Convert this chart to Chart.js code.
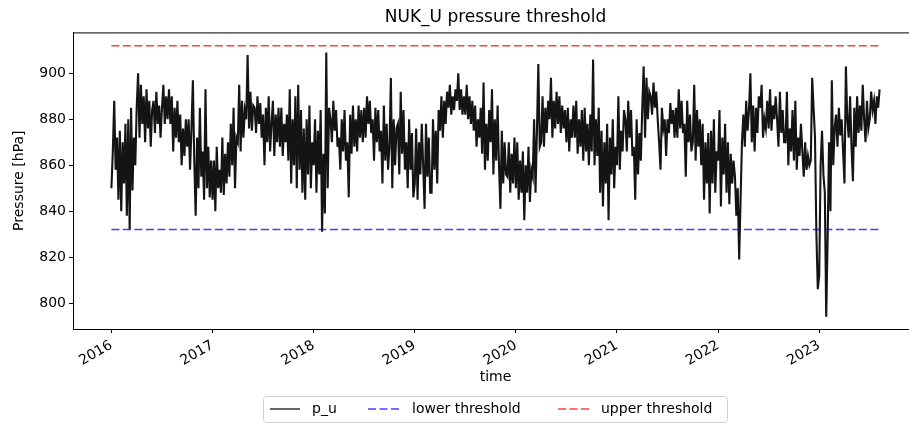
<!DOCTYPE html>
<html>
<head>
<meta charset="utf-8">
<script src="https://cdn.jsdelivr.net/npm/chart.js@4.4.0/dist/chart.umd.min.js"></script>
<style>
  html, body { margin: 0; padding: 0; background: #fff; }
  #wrap { width: 909px; height: 424px; overflow: hidden; }
</style>
</head>
<body>
<div id="wrap"><canvas id="pressureChart" width="920" height="424"></canvas></div>
<script>
// p_u readings, 6 values per month (Jan..Dec)
const p2016 = [
    850, 866, 888, 858, 872, 845,  875, 840, 870, 852, 878, 838,  880, 832, 885, 849, 872, 860,
    885, 900, 872, 895, 878, 890,  870, 893, 876, 888, 868, 884,  888, 874, 892, 878, 886, 872,
    885, 895, 878, 890, 880, 893,  878, 890, 866, 885, 872, 888,  870, 882, 860, 876, 864, 880,
    868, 880, 858, 876, 897, 862,  838, 872, 850, 885, 855, 866,  845, 893, 850, 868, 846, 862
];
const p2017 = [
    845, 862, 840, 868, 850, 858,  848, 872, 847, 865, 852, 870,  855, 878, 860, 885, 850, 872,
    870, 895, 866, 888, 872, 884,  880, 908, 876, 892, 875, 886,  885, 874, 890, 878, 887, 872,
    882, 860, 885, 870, 890, 866,  878, 888, 864, 882, 870, 885,  868, 885, 864, 878, 870, 882,
    862, 893, 852, 880, 860, 890,  850, 895, 858, 884, 848, 876,  845, 880, 856, 886, 850, 870
];
const p2018 = [
    860, 880, 848, 875, 856, 884,  831, 865, 839, 909, 850, 885,  880, 870, 888, 875, 884, 868,
    872, 858, 880, 866, 884, 862,  870, 846, 882, 865, 886, 868,  880, 866, 886, 872, 884, 870,
    885, 872, 890, 878, 888, 874,  880, 862, 885, 870, 884, 866,  875, 852, 886, 862, 878, 858,
    868, 898, 850, 880, 860, 876,  878, 856, 892, 865, 884, 858,  870, 850, 880, 858, 874, 846
];
const p2019 = [
    852, 876, 845, 870, 856, 878,  860, 841, 878, 855, 872, 848,  848, 880, 858, 875, 852, 884,
    875, 890, 872, 888, 878, 892,  885, 895, 882, 890, 884, 893,  888, 900, 884, 893, 882, 890,
    882, 895, 880, 890, 878, 888,  875, 886, 868, 880, 872, 885,  865, 896, 858, 878, 862, 884,
    870, 893, 856, 880, 862, 886,  860, 841, 875, 852, 870, 856,  855, 870, 848, 865, 852, 872
];
const p2020 = [
    850, 870, 845, 862, 848, 866,  836, 860, 848, 868, 844, 858,  855, 880, 848, 875, 904, 868,
    870, 890, 868, 885, 874, 888,  880, 898, 872, 888, 876, 892,  878, 890, 874, 886, 876, 884,
    870, 885, 866, 880, 872, 886,  872, 888, 865, 880, 868, 884,  862, 885, 866, 878, 860, 882,
    866, 906, 860, 880, 864, 885,  848, 875, 842, 870, 852, 878,  836, 872, 856, 880, 850, 868
];
const p2021 = [
    860, 890, 858, 875, 866, 884,  880, 866, 888, 872, 884, 864,  868, 845, 880, 856, 874, 862,
    885, 903, 872, 898, 880, 892,  890, 882, 896, 885, 892, 880,  870, 858, 885, 876, 880, 864,
    880, 874, 887, 878, 884, 872,  885, 872, 893, 876, 888, 874,  878, 855, 888, 870, 882, 866,
    870, 895, 862, 884, 868, 880,  860, 878, 845, 870, 852, 874,  839, 875, 852, 880, 848, 866
];
const p2022 = [
    862, 884, 842, 872, 856, 878,  848, 870, 843, 865, 852, 862,  855, 838, 850, 819, 845, 870,
    882, 868, 888, 875, 884, 900,  870, 886, 866, 885, 874, 890,  885, 895, 872, 880, 876, 888,
    876, 893, 875, 886, 880, 890,  880, 868, 892, 874, 884, 870,  870, 892, 860, 876, 866, 884,
    862, 888, 858, 872, 864, 878,  866, 855, 870, 858, 864, 860,  862, 898, 885, 872, 830, 806
];
const p2023 = [
    812, 860, 875, 856, 848, 794,  828, 870, 840, 897, 860, 876,  882, 868, 885, 873, 880, 866,
    852, 903, 880, 872, 890, 868,  853, 885, 868, 890, 874, 886,  875, 895, 880, 870, 888, 876,
    880, 892, 884, 888, 878, 890,  885, 893
];

const years = [2016, 2017, 2018, 2019, 2020, 2021, 2022, 2023];
const yearlyValues = [p2016, p2017, p2018, p2019, p2020, p2021, p2022, p2023];
const valuesPerYear = 72;

const lowerThreshold = 832;
const upperThreshold = 912;

const yTicks = [800, 820, 840, 860, 880, 900];
const seriesLabels = ['p_u', 'lower threshold', 'upper threshold'];
const seriesColors = ['rgba(0,0,0,0.92)', 'rgba(0,0,255,0.75)', 'rgba(255,0,0,0.75)'];

const FONT = 'DejaVu Sans';

// spread each year's readings evenly over that year
let pu = [];
yearlyValues.forEach((vals, k) => {
    vals.forEach((v, i) => {
        pu.push({x: years[k] + i / valuesPerYear, y: v});
    });
});

const firstX = pu[0].x;
const lastX = pu[pu.length - 1].x;
const margin = (lastX - firstX) * 0.05;

/**
 * Frame and legend, drawn matplotlib-style
 */
const framePlugin = {
    id: 'frame',
    afterDraw: (chart) => {
        const ctx = chart.ctx;
        const area = chart.chartArea;
        ctx.save();
        ctx.strokeStyle = '#000';
        ctx.lineWidth = 1;
        ctx.strokeRect(area.left + 0.5, area.top + 0.5, area.right - area.left, area.bottom - area.top);

        // legend box
        const bx = 263.5, by = 396.5, bw = 464, bh = 26, r = 3;
        ctx.beginPath();
        ctx.moveTo(bx + r, by);
        ctx.lineTo(bx + bw - r, by);
        ctx.quadraticCurveTo(bx + bw, by, bx + bw, by + r);
        ctx.lineTo(bx + bw, by + bh - r);
        ctx.quadraticCurveTo(bx + bw, by + bh, bx + bw - r, by + bh);
        ctx.lineTo(bx + r, by + bh);
        ctx.quadraticCurveTo(bx, by + bh, bx, by + bh - r);
        ctx.lineTo(bx, by + r);
        ctx.quadraticCurveTo(bx, by, bx + r, by);
        ctx.closePath();
        ctx.fillStyle = 'rgba(255,255,255,0.8)';
        ctx.fill();
        ctx.strokeStyle = '#d0d0d0';
        ctx.stroke();

        const entries = [
            {x0: 270, x1: 300, tx: 312, dash: []},
            {x0: 368, x1: 400, tx: 412, dash: [8, 3.5]},
            {x0: 558, x1: 590, tx: 601, dash: [8, 3.5]}
        ];
        const ly = 409;
        ctx.font = '14px "' + FONT + '"';
        ctx.textBaseline = 'middle';
        ctx.textAlign = 'left';
        entries.forEach((e, i) => {
            ctx.beginPath();
            ctx.setLineDash(e.dash);
            ctx.strokeStyle = i === 0 ? 'rgba(0,0,0,0.8)' : seriesColors[i];
            ctx.lineWidth = 1.5;
            ctx.moveTo(e.x0, ly);
            ctx.lineTo(e.x1, ly);
            ctx.stroke();
            ctx.setLineDash([]);
            ctx.fillStyle = '#000';
            ctx.fillText(seriesLabels[i], e.tx, ly);
        });
        ctx.restore();
    }
};

new Chart(document.getElementById('pressureChart'), {
    type: 'line',
    data: {
        datasets: [
            {
                label: seriesLabels[0],
                data: pu,
                borderColor: seriesColors[0],
                borderWidth: 2.1,
                pointRadius: 0,
                tension: 0,
                order: 2
            },
            {
                label: seriesLabels[1],
                data: [{x: firstX, y: lowerThreshold}, {x: lastX, y: lowerThreshold}],
                borderColor: seriesColors[1],
                borderWidth: 1.5,
                borderDash: [8, 3.5],
                pointRadius: 0,
                order: 1
            },
            {
                label: seriesLabels[2],
                data: [{x: firstX, y: upperThreshold}, {x: lastX, y: upperThreshold}],
                borderColor: seriesColors[2],
                borderWidth: 1.5,
                borderDash: [8, 3.5],
                pointRadius: 0,
                order: 0
            }
        ]
    },
    options: {
        responsive: false,
        animation: false,
        layout: {padding: {left: 0, right: 2, top: 0, bottom: 0}},
        plugins: {
            legend: {display: false},
            tooltip: {enabled: false},
            title: {
                display: true,
                fullSize: false,
                text: 'NUK_U pressure threshold',
                color: '#000',
                font: {family: FONT, size: 17, weight: 'normal'},
                padding: {top: 7, bottom: 5}
            }
        },
        scales: {
            x: {
                type: 'linear',
                min: firstX - margin,
                max: lastX + margin,
                afterBuildTicks: (scale) => {
                    scale.ticks = years.map(v => ({value: v}));
                },
                afterFit: (scale) => {
                    scale.height = 95;
                },
                grid: {drawOnChartArea: false, tickLength: 4, color: '#000'},
                border: {color: '#000', width: 1},
                ticks: {
                    color: '#000',
                    minRotation: 30,
                    maxRotation: 30,
                    padding: 4,
                    font: {family: FONT, size: 14},
                    callback: (v) => String(v)
                },
                title: {
                    display: true,
                    text: 'time',
                    color: '#000',
                    font: {family: FONT, size: 14},
                    padding: {top: 0, bottom: 38}
                }
            },
            y: {
                min: 788.7,
                max: 917.8,
                afterBuildTicks: (scale) => {
                    scale.ticks = yTicks.map(v => ({value: v}));
                },
                afterFit: (scale) => {
                    scale.width = 73;
                },
                grid: {drawOnChartArea: false, tickLength: 4, color: '#000'},
                border: {color: '#000', width: 1},
                ticks: {
                    color: '#000',
                    padding: 3,
                    font: {family: FONT, size: 14}
                },
                title: {
                    display: true,
                    text: 'Pressure [hPa]',
                    color: '#000',
                    font: {family: FONT, size: 14},
                    padding: {top: 11, bottom: 0}
                }
            }
        }
    },
    plugins: [framePlugin]
});
</script>
</body>
</html>
